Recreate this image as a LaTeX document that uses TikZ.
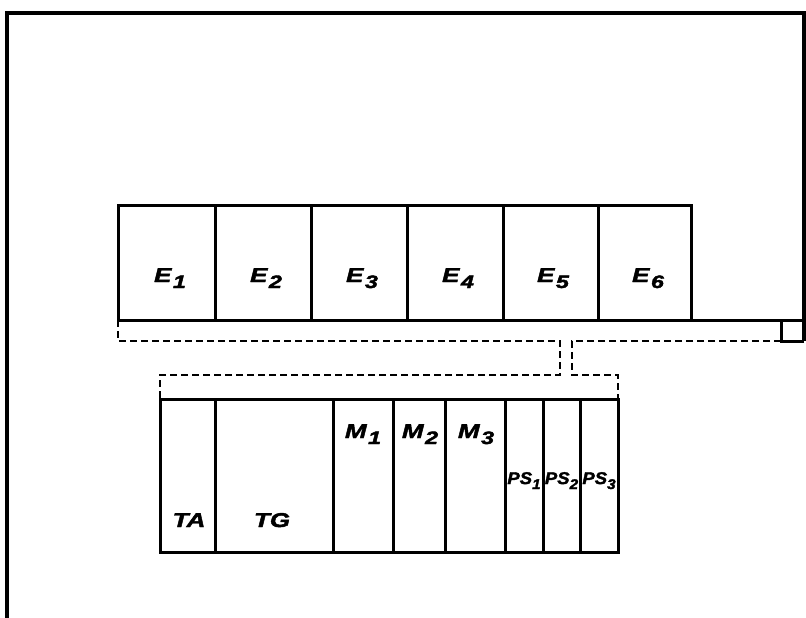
\documentclass[tikz,border=0pt]{standalone}
\usepackage{fontspec}
\newfontfamily\labfont[BoldItalicFeatures={FakeBold=2.2, FakeStretch=1.3}]{Liberation Sans}
\tikzset{
  box/.style={draw, line width=3pt, inner sep=0pt, outer sep=0pt, anchor=north west},
  frame/.style={line width=4pt},
  link/.style={line width=2.3pt, dash pattern=on 7pt off 4pt},
  lab/.style={anchor=base, inner sep=0pt, font=\labfont\bfseries\itshape\fontsize{20}{20}\selectfont},
  smalllab/.style={anchor=base, inner sep=0pt, font=\labfont\bfseries\itshape\fontsize{17}{17}\selectfont}
}
\newcommand{\sbx}[1]{\kern1.5pt\raisebox{-6pt}{\fontsize{18}{18}\selectfont #1}}
\newcommand{\sbs}[1]{\raisebox{-5pt}{\fontsize{14}{14}\selectfont #1}}
\begin{document}
\begin{tikzpicture}[x=1pt,y=-1pt]
\useasboundingbox (0,0) rectangle (806,618);
% upper row
\node[box, minimum width=97pt, minimum height=115pt] (e1) at (118,205) {};
\node[box, minimum width=96pt, minimum height=115pt] (e2) at (215,205) {};
\node[box, minimum width=96pt, minimum height=115pt] (e3) at (311,205) {};
\node[box, minimum width=96pt, minimum height=115pt] (e4) at (407,205) {};
\node[box, minimum width=95pt, minimum height=115pt] (e5) at (503,205) {};
\node[box, minimum width=93pt, minimum height=115pt] (e6) at (598,205) {};
\node[lab] (le1) at (170,282) {E\sbx{1}};
\node[lab] (le2) at (266,282) {E\sbx{2}};
\node[lab] (le3) at (362,282) {E\sbx{3}};
\node[lab] (le4) at (458,282) {E\sbx{4}};
\node[lab] (le5) at (553,282) {E\sbx{5}};
\node[lab] (le6) at (648,282) {E\sbx{6}};
% lower row
\node[box, minimum width=55pt, minimum height=153pt] (ta) at (160,399) {};
\node[box, minimum width=118pt, minimum height=153pt] (tg) at (215,399) {};
\node[box, minimum width=60pt, minimum height=153pt] (m1) at (333,399) {};
\node[box, minimum width=52pt, minimum height=153pt] (m2) at (393,399) {};
\node[box, minimum width=60pt, minimum height=153pt] (m3) at (445,399) {};
\node[box, minimum width=38pt, minimum height=153pt] (ps1) at (505,399) {};
\node[box, minimum width=37pt, minimum height=153pt] (ps2) at (543,399) {};
\node[box, minimum width=38pt, minimum height=153pt] (ps3) at (580,399) {};
\node[lab] (lta) at (189,527) {TA};
\node[lab] (ltg) at (272,527) {TG};
\node[lab] (lm1) at (363,438) {M\sbx{1}};
\node[lab] (lm2) at (420,438) {M\sbx{2}};
\node[lab] (lm3) at (476,438) {M\sbx{3}};
\node[smalllab] (lps1) at (524,484) {\scalebox{0.84}[1]{PS\sbs{1}}};
\node[smalllab] (lps2) at (561.5,484) {\scalebox{0.84}[1]{PS\sbs{2}}};
\node[smalllab] (lps3) at (599,484) {\scalebox{0.84}[1]{PS\sbs{3}}};
% frame and corner
\coordinate (fb) at (7,618);
\coordinate (ftl) at (7,13);
\coordinate (ftr) at (804,13);
\coordinate (fr) at (804,341);
\coordinate (lk) at (781,341);
\coordinate (lt) at (781,320);
\coordinate (er) at (804,320);
\draw[frame] (fb) -- (ftl) -- (ftr) -- (fr);
\draw[line width=3pt] (fr) -- (lk) -- (lt);
\draw[line width=3pt] (e6.south east) -- (er);
% dashed links
\coordinate (a1) at (118,341);
\coordinate (a2) at (560,341);
\coordinate (a3) at (560,375);
\coordinate (a4) at (160,375);
\coordinate (b2) at (572,341);
\coordinate (b3) at (572,375);
\coordinate (b4) at (618,375);
\draw[link] (e1.south west) -- (a1) -- (a2) -- (a3) -- (a4) -- (ta.north west);
\draw[link] (lk) -- (b2) -- (b3) -- (b4) -- (ps3.north east);
\end{tikzpicture}
\end{document}
